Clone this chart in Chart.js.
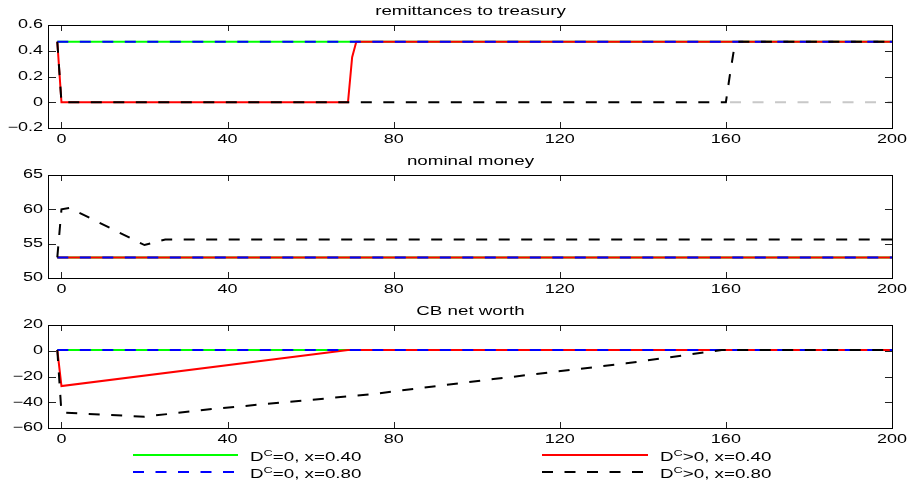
<!DOCTYPE html>
<html><head><meta charset="utf-8">
<script src="https://cdn.jsdelivr.net/npm/chart.js@4.4.1/dist/chart.umd.min.js"></script>
<style>
html,body{margin:0;padding:0;background:#fff;}
#wrap{position:relative;width:911px;height:480px;overflow:hidden;background:#fff;}
canvas{position:absolute;left:0;}
.lg{position:absolute;font-family:'Liberation Sans',Arial,sans-serif;font-size:12.5px;line-height:14px;color:#000;white-space:nowrap;transform:scaleX(1.5);transform-origin:0 50%;}
.lg .sc{font-size:8.5px;position:relative;top:-5px;}
</style></head>
<body><div id="wrap">
<canvas id="c1" width="911" height="150" style="top:0px"></canvas>
<canvas id="c2" width="911" height="150" style="top:150px"></canvas>
<canvas id="c3" width="911" height="150" style="top:300px"></canvas>
<svg id="lgs" width="911" height="480" style="position:absolute;left:0;top:0"></svg>
</div>
<script>
// ---------- data ----------
const xTicks = [0, 40, 80, 120, 160, 200];
const remitTicks = [-0.2, 0, 0.2, 0.4, 0.6];
const moneyTicks = [50, 55, 60, 65];
const worthTicks = [-60, -40, -20, 0, 20];

const panelTitles = ['remittances to treasury', 'nominal money', 'CB net worth'];
const seriesLabels = ['D<span class="sc">C</span>=0, x=0.40', 'D<span class="sc">C</span>=0, x=0.80',
                      'D<span class="sc">C</span>&gt;0, x=0.40', 'D<span class="sc">C</span>&gt;0, x=0.80'];
const seriesColors = ['#00ff00', '#0000ff', '#ff0000', '#000000'];

// remittances to treasury
const remitFlatT = [-1, 200];
const remitFlatV = [0.47, 0.47];
const remitRedT = [-1, 0, 69, 70, 71, 200];
const remitRedV = [0.47, 0, 0, 0.35, 0.47, 0.47];
const remitBlackT = [-1, 0, 160, 161, 162, 163, 200];
const remitBlackV = [0.47, 0, 0, 0.22, 0.42, 0.47, 0.47];
const remitZeroT = [161, 200];
const remitZeroV = [0, 0];

// nominal money
const moneyFlatT = [-1, 200];
const moneyFlatV = [53, 53];
const moneyBlackT = [-1, 0, 2, 20, 25, 200];
const moneyBlackV = [53, 60, 60.2, 54.8, 55.6, 55.6];

// CB net worth
const worthFlatT = [-1, 200];
const worthFlatV = [0.6, 0.6];
const worthRedT = [-1, 0, 69, 200];
const worthRedV = [0.6, -27.4, 0.6, 0.6];
const worthBlackT = [-1, 0, 20, 37, 74, 104, 136, 159, 200];
const worthBlackV = [0.6, -48, -51.2, -45, -34, -22, -9.8, 0.6, 0.6];

// ---------- helpers ----------
const DASH = [11, 11.5];
const TEXT_SX = 1.5;
function pts(ts, vs){ return ts.map((t, i) => ({x: t, y: vs[i]})); }
function fmt(v){ return v < 0 ? '\u2212' + String(Math.abs(v)) : String(v); }

function stretchText(ctx){
  const pf = CanvasRenderingContext2D.prototype.fillText;
  const pm = CanvasRenderingContext2D.prototype.measureText;
  ctx.fillText = function(t, x, y){
    this.save(); this.translate(x, y); this.scale(TEXT_SX, 1);
    pf.call(this, t, 0, 0); this.restore();
  };
  ctx.measureText = function(t){
    const r = pm.call(this, t);
    return {width: r.width * TEXT_SX,
            actualBoundingBoxAscent: r.actualBoundingBoxAscent,
            actualBoundingBoxDescent: r.actualBoundingBoxDescent,
            actualBoundingBoxLeft: r.actualBoundingBoxLeft * TEXT_SX,
            actualBoundingBoxRight: r.actualBoundingBoxRight * TEXT_SX};
  };
}

const framePlugin = {
  id: 'frame',
  afterDraw(chart){
    const {ctx, chartArea: a, scales: {x, y}} = chart;
    ctx.save();
    ctx.strokeStyle = '#222'; ctx.lineWidth = 1;
    ctx.beginPath();
    x.ticks.forEach(t => {
      const p = Math.round(x.getPixelForValue(t.value)) + 0.5;
      ctx.moveTo(p, a.bottom); ctx.lineTo(p, a.bottom - 6);
      ctx.moveTo(p, a.top); ctx.lineTo(p, a.top + 6);
    });
    y.ticks.forEach(t => {
      const p = Math.round(y.getPixelForValue(t.value)) + 0.5;
      ctx.moveTo(a.left, p); ctx.lineTo(a.left + 7, p);
      ctx.moveTo(a.right, p); ctx.lineTo(a.right - 7, p);
    });
    ctx.stroke();
    ctx.strokeStyle = '#000';
    ctx.strokeRect(Math.round(a.left) - 0.5, Math.round(a.top) + 0.5,
                   Math.round(a.right - a.left) + 1, Math.round(a.bottom - a.top));
    ctx.restore();
  }
};

function ds(label, data, color, dashed, extra){
  return Object.assign({label, data, borderColor: color, backgroundColor: color,
    borderWidth: 2, borderDash: dashed ? DASH : [], pointRadius: 0, tension: 0, fill: false}, extra || {});
}

Chart.defaults.font.family = "'Liberation Sans', Arial, sans-serif";
Chart.defaults.color = '#000';

function makeChart(id, title, yMin, yMax, yTicks, datasets){
  const canvas = document.getElementById(id);
  const ctx = canvas.getContext('2d');
  stretchText(ctx);
  return new Chart(ctx, {
    type: 'line',
    data: {datasets},
    options: {
      responsive: false, animation: false, devicePixelRatio: 1,
      layout: {padding: {left: 0, right: 18, top: 0, bottom: 0}},
      plugins: {
        legend: {display: false}, tooltip: {enabled: false},
        title: {display: true, text: title, fullSize: false, color: '#000',
                font: {size: 12.5, weight: 'normal'}, padding: {top: 4.5, bottom: 5.5}}
      },
      scales: {
        x: {type: 'linear', min: -3, max: 200,
            afterBuildTicks: s => { s.ticks = xTicks.map(v => ({value: v})); },
            afterFit: s => { s.height = 22; },
            grid: {display: false, drawTicks: false}, border: {display: false},
            ticks: {padding: 4, font: {size: 12}, color: '#000', maxRotation: 0, autoSkip: false, callback: v => fmt(v)}},
        y: {type: 'linear', min: yMin, max: yMax,
            afterBuildTicks: s => { s.ticks = yTicks.map(v => ({value: v})); },
            afterFit: s => { s.width = 49; },
            grid: {display: false, drawTicks: false}, border: {display: false},
            ticks: {padding: 6, font: {size: 12}, color: '#000', autoSkip: false, callback: v => fmt(v)}}
      }
    },
    plugins: [framePlugin]
  });
}

// datasets listed top-most first
makeChart('c1', panelTitles[0], -0.2, 0.6, remitTicks, [
  ds('DC>0, x=0.80', pts(remitBlackT, remitBlackV), seriesColors[3], true),
  ds('DC=0, x=0.80', pts(remitFlatT, remitFlatV), seriesColors[1], true),
  ds('DC>0, x=0.40', pts(remitRedT, remitRedV), seriesColors[2], false),
  ds('DC=0, x=0.40', pts(remitFlatT, remitFlatV), seriesColors[0], false),
  ds('zero', pts(remitZeroT, remitZeroV), '#c8c8c8', true)
]);
makeChart('c2', panelTitles[1], 50, 65, moneyTicks, [
  ds('DC>0, x=0.80', pts(moneyBlackT, moneyBlackV), seriesColors[3], true),
  ds('DC=0, x=0.80', pts(moneyFlatT, moneyFlatV), seriesColors[1], true),
  ds('DC>0, x=0.40', pts(moneyFlatT, moneyFlatV), seriesColors[2], false),
  ds('DC=0, x=0.40', pts(moneyFlatT, moneyFlatV), seriesColors[0], false)
]);
makeChart('c3', panelTitles[2], -60, 20, worthTicks, [
  ds('DC>0, x=0.80', pts(worthBlackT, worthBlackV), seriesColors[3], true),
  ds('DC=0, x=0.80', pts(worthFlatT, worthFlatV), seriesColors[1], true),
  ds('DC>0, x=0.40', pts(worthRedT, worthRedV), seriesColors[2], false),
  ds('DC=0, x=0.40', pts(worthFlatT, worthFlatV), seriesColors[0], false)
]);

// ---------- legend ----------
const lgPos = [
  {x1: 133, x2: 238, y: 455, tx: 250, ty: 449.5},
  {x1: 133, x2: 238, y: 472, tx: 250, ty: 467},
  {x1: 542, x2: 648, y: 455, tx: 660, ty: 449.5},
  {x1: 542, x2: 648, y: 472, tx: 660, ty: 467}
];
const svg = document.getElementById('lgs');
const wrap = document.getElementById('wrap');
seriesLabels.forEach((lab, i) => {
  const p = lgPos[i];
  const ln = document.createElementNS('http://www.w3.org/2000/svg', 'line');
  ln.setAttribute('x1', p.x1); ln.setAttribute('x2', p.x2);
  ln.setAttribute('y1', p.y); ln.setAttribute('y2', p.y);
  ln.setAttribute('stroke', seriesColors[i]); ln.setAttribute('stroke-width', 2);
  if (i === 1 || i === 3) ln.setAttribute('stroke-dasharray', DASH.join(' '));
  svg.appendChild(ln);
  const d = document.createElement('div');
  d.className = 'lg'; d.style.left = p.tx + 'px'; d.style.top = p.ty + 'px';
  d.innerHTML = lab;
  wrap.appendChild(d);
});
</script>
</body></html>
